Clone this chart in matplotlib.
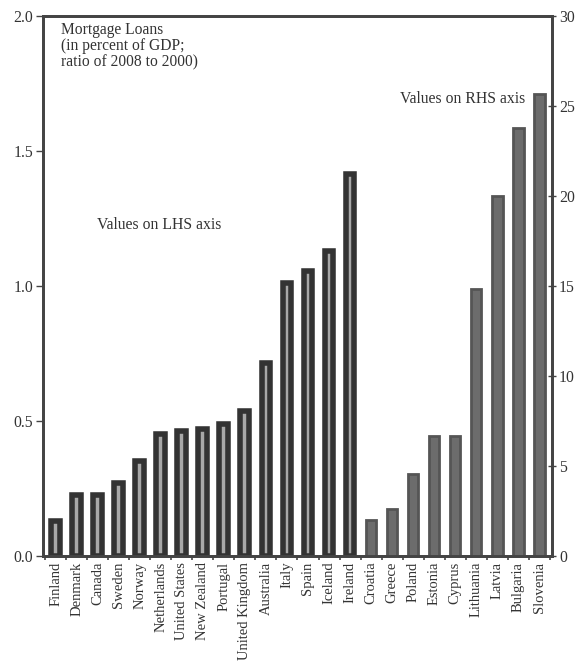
import matplotlib
matplotlib.use("Agg")
import matplotlib.pyplot as plt
import numpy as np

plt.rcParams['font.family'] = ['Liberation Serif', 'DejaVu Serif']

# ── Data ──
lhs_countries = ['Finland', 'Denmark', 'Canada', 'Sweden', 'Norway', 'Netherlands',
                 'United States', 'New Zealand', 'Portugal', 'United Kingdom',
                 'Australia', 'Italy', 'Spain', 'Iceland', 'Ireland']
lhs_values = [0.13, 0.227, 0.227, 0.27, 0.353, 0.453, 0.464, 0.47, 0.49, 0.538,
              0.716, 1.01, 1.057, 1.13, 1.416]

rhs_countries = ['Croatia', 'Greece', 'Poland', 'Estonia', 'Cyprus', 'Lithuania',
                 'Latvia', 'Bulgaria', 'Slovenia']
rhs_values = [2.0, 2.6, 4.55, 6.65, 6.65, 14.85, 20.0, 23.75, 25.65]

lhs_ticks = [0.0, 0.5, 1.0, 1.5, 2.0]
rhs_ticks = [0, 5, 10, 15, 20, 25, 30]

txt = '#333333'
spine_c = '#444444'

fig = plt.figure(figsize=(5.81, 6.62), dpi=100)
ax = fig.add_axes([0.074, 0.160, 0.876, 0.816])
ax2 = ax.twinx()

x_lhs = np.arange(len(lhs_countries))
x_rhs = np.arange(len(lhs_countries), len(lhs_countries) + len(rhs_countries))

ax.bar(x_lhs, lhs_values, width=0.42, color='#a8a8a8', edgecolor='#333333', linewidth=4)
ax2.bar(x_rhs, rhs_values, width=0.5, color='#6c6c6c', edgecolor='#555555', linewidth=2)

ax.set_xlim(-0.6, len(lhs_countries) + len(rhs_countries) - 0.4)
ax.set_ylim(0, 2.0)
ax2.set_ylim(0, 30)

ax.set_yticks(lhs_ticks)
ax.set_yticklabels([f'{v:.1f}' for v in lhs_ticks])
ax2.set_yticks(rhs_ticks)
ax2.set_yticklabels([str(v) for v in rhs_ticks])

ax.set_xticks(np.arange(len(lhs_countries) + len(rhs_countries)))
ax.set_xticklabels(lhs_countries + rhs_countries, rotation=90)
ax.set_xticks(np.arange(-0.5, len(lhs_countries) + len(rhs_countries)), minor=True)
ax.tick_params(axis='x', which='major', length=0, pad=4, labelsize=10.5, labelcolor=txt)
ax.tick_params(axis='x', which='minor', length=3, direction='out', color=spine_c, width=1.2)
ax.tick_params(axis='y', length=5, direction='out', labelsize=11.3, labelcolor=txt,
               color=spine_c, width=1, pad=2)
ax2.tick_params(axis='y', length=6, direction='inout', labelsize=11.3, labelcolor=txt,
                color=spine_c, width=1, pad=2)

for a in (ax, ax2):
    for s in a.spines.values():
        s.set_color(spine_c)
        s.set_linewidth(2)

ax.text(0.035, 0.988, 'Mortgage Loans\n(in percent of GDP;\nratio of 2008 to 2000)',
        transform=ax.transAxes, ha='left', va='top', fontsize=11.2, color=txt,
        linespacing=1.0)
ax.text(0.106, 0.613, 'Values on LHS axis', transform=ax.transAxes, ha='left',
        va='center', fontsize=11.3, color=txt)
ax.text(0.701, 0.846, 'Values on RHS axis', transform=ax.transAxes, ha='left',
        va='center', fontsize=11.3, color=txt)

plt.savefig('out.png', dpi=100)
